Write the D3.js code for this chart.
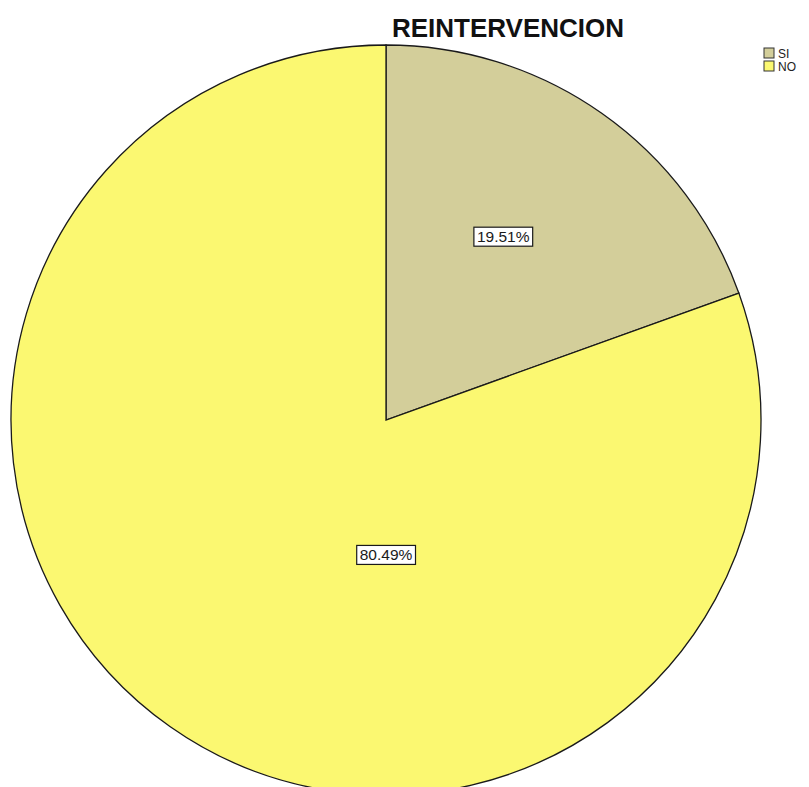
<!DOCTYPE html>
<html>
<head>
<meta charset="utf-8">
<script src="https://cdn.jsdelivr.net/npm/d3@7"></script>
<style>
  html, body { margin: 0; padding: 0; background: #ffffff; overflow: hidden; }
  svg { display: block; }
</style>
</head>
<body>
<svg id="chart" width="809" height="787"></svg>
<script>
// Pie of reintervention outcome
const categories = ["SI", "NO"];
const percents = [19.51, 80.49];
const colors = ["#d3ce9a", "#fbf871"];
const chartTitle = "REINTERVENCION";

const cx = 386, cy = 420, R = 375;

// Label anchor for each slice: angle (degrees, clockwise from 12 o'clock) and radius fraction
const labelAngles = [32.6, 180];
const labelRadii = [0.58, 0.36];

const svg = d3.select("#chart");

const data = categories.map((c, i) => ({ cat: c, value: percents[i], color: colors[i] }));

const pie = d3.pie().value(d => d.value).sort(null);
const arcs = pie(data);
const arc = d3.arc().innerRadius(0).outerRadius(R);

const g = svg.append("g").attr("transform", `translate(${cx},${cy})`);

g.selectAll("path.slice")
  .data(arcs)
  .join("path")
  .attr("class", "slice")
  .attr("d", arc)
  .attr("fill", d => d.data.color)
  .attr("stroke", "#1a1a1a")
  .attr("stroke-width", 1.3);

// Value labels with boxed background
arcs.forEach((a, i) => {
  const ang = labelAngles[i] * Math.PI / 180;
  const rr = R * labelRadii[i];
  const x = Math.sin(ang) * rr;
  const y = -Math.cos(ang) * rr;
  const txt = d3.format(".2f")(a.data.value) + "%";
  const lg = g.append("g").attr("transform", `translate(${x},${y})`);
  const t = lg.append("text")
    .attr("text-anchor", "middle")
    .attr("dy", "0.35em")
    .attr("font-family", "Arial, 'Liberation Sans', sans-serif")
    .attr("font-size", 15.5)
    .attr("fill", "#1a1a1a")
    .text(txt);
  const bb = t.node().getBBox();
  lg.insert("rect", "text")
    .attr("x", bb.x - 3)
    .attr("y", bb.y - 1)
    .attr("width", bb.width + 6)
    .attr("height", bb.height + 2)
    .attr("fill", "#ffffff")
    .attr("stroke", "#1a1a1a")
    .attr("stroke-width", 1.2);
});

// Title
svg.append("text")
  .attr("x", 508)
  .attr("y", 37)
  .attr("text-anchor", "middle")
  .attr("font-family", "Arial, 'Liberation Sans', sans-serif")
  .attr("font-size", 26)
  .attr("font-weight", "bold")
  .attr("fill", "#111")
  .text(chartTitle);

// Legend
const legend = svg.append("g").attr("transform", "translate(764,48)");
data.forEach((d, i) => {
  const row = legend.append("g").attr("transform", `translate(0,${i * 13})`);
  row.append("rect")
    .attr("x", 0).attr("y", 0)
    .attr("width", 10).attr("height", 10)
    .attr("fill", d.color)
    .attr("stroke", "#333")
    .attr("stroke-width", 1);
  row.append("text")
    .attr("x", 14).attr("y", 10)
    .attr("font-family", "Arial, 'Liberation Sans', sans-serif")
    .attr("font-size", 12)
    .attr("fill", "#222")
    .text(d.cat);
});
</script>
</body>
</html>
